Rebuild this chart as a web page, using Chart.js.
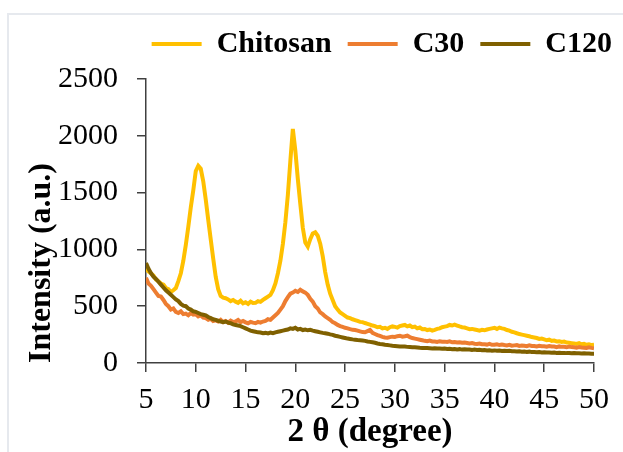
<!DOCTYPE html>
<html><head><meta charset="utf-8">
<script src="https://cdn.jsdelivr.net/npm/chart.js@4"></script>
<style>
html,body{margin:0;padding:0;background:#fff;}
#wrap{position:relative;width:623px;height:452px;overflow:hidden;}
#frame{position:absolute;left:7px;top:13px;right:-5px;bottom:-5px;border-left:2px solid #e6e9ee;border-top:2px solid #e6e9ee;}
canvas{position:absolute;left:0;top:0;}
</style></head><body>
<div id="wrap"><div id="frame"></div><canvas id="c" width="623" height="452"></canvas></div>
<script>
// 2θ grid: first angle and step (degrees)
const angleStart = 5;
const angleStep = 0.25;

const seriesNames = ['Chitosan', 'C30', 'C120'];

const chitosan = [
830,805,790,770,
735,720,700,690,
660,650,625,640,
660,720,790,900,
1040,1200,1370,1520,
1690,1735,1710,1600,
1440,1260,1090,920,
760,650,590,575,
570,560,545,555,
540,530,548,525,
535,520,540,528,
530,545,538,555,
570,585,600,640,
700,790,900,1050,
1240,1480,1780,2060,
1870,1620,1400,1190,
1060,1025,1090,1140,
1150,1120,1050,940,
800,690,610,555,
500,470,445,430,
415,400,395,385,
378,370,362,360,
352,345,338,330,
325,315,318,305,
310,300,315,322,
318,312,325,330,
335,322,330,315,
320,305,312,298,
300,290,295,285,
292,300,305,315,
320,325,335,330,
338,330,322,315,
312,305,298,300,
295,290,285,292,
288,295,300,305,
310,300,312,305,
300,290,285,275,
270,262,255,250,
245,240,235,228,
225,220,212,215,
208,200,205,195,
198,190,192,185,
188,180,178,175,
172,168,175,165,
168,160,165,158,
160];

const c30 = [
750,700,680,650,
620,590,585,555,
520,500,470,480,
450,440,455,430,
435,420,440,425,
430,410,420,400,
395,380,390,370,
375,365,380,360,
370,355,372,360,
365,378,360,370,
358,350,362,355,
350,362,355,365,
370,385,380,400,
420,440,470,500,
545,580,610,620,
635,625,645,630,
620,600,565,540,
500,480,445,430,
410,395,380,360,
350,335,325,318,
310,305,298,292,
290,285,278,272,
270,280,290,265,
255,245,238,230,
225,222,228,232,
230,236,240,232,
235,240,228,220,
215,210,205,200,
195,192,198,190,
190,186,192,188,
188,185,190,182,
185,180,183,178,
180,176,172,175,
170,168,172,166,
165,162,168,160,
160,165,158,162,
158,155,160,152,
155,158,150,153,
152,148,155,150,
150,146,152,148,
148,144,150,145,
145,140,146,142,
142,138,144,140,
138,135,140,136,
135,132,138,133,
130];

const c120 = [
880,830,790,760,
740,715,690,665,
640,620,600,580,
560,545,520,505,
500,480,470,455,
450,440,430,425,
420,405,395,385,
380,372,365,360,
365,355,350,340,
335,330,325,315,
305,295,285,280,
275,270,268,262,
265,260,268,262,
270,275,280,285,
290,295,305,300,
310,295,300,290,
295,288,292,285,
280,275,270,265,
262,258,252,248,
240,235,230,225,
220,215,212,208,
205,202,200,198,
195,190,186,182,
178,172,168,165,
160,158,155,152,
150,148,146,145,
145,142,140,138,
138,136,134,133,
132,131,130,128,
130,127,128,125,
128,124,126,122,
124,120,122,118,
120,118,119,115,
118,114,116,112,
114,110,112,109,
111,108,110,106,
108,105,107,103,
104,101,103,100,
101,98,100,96,
97,95,96,93,
94,92,93,90,
92,89,90,88,
89,87,88,86,
87,85,86,84,
85,83,84,82,
82];

const xTickLabels = ['5','10','15','20','25','30','35','40','45','50'];
const yTickLabels = ['0','500','1000','1500','2000','2500'];

const FONT = '"Liberation Serif", "Times New Roman", serif';
const AXIS = '#404040';
const colors = ['#FFC000', '#ED7D31', '#7F6000'];
const toPoints = arr => arr.map((v, i) => ({ x: angleStart + i * angleStep, y: v }));

const seriesData = [chitosan, c30, c120];
const datasets = seriesData.map((arr, i) => ({
  label: seriesNames[i],
  data: toPoints(arr),
  borderColor: colors[i],
  backgroundColor: colors[i],
  borderWidth: 4,
  pointRadius: 0,
  tension: 0,
  fill: false,
  order: 3 - i
}));

const hiddenAxis = size => ({
  display: true,
  type: 'linear',
  ticks: { display: false },
  grid: { display: false, drawTicks: false },
  border: { display: false },
  afterFit: s => { if (s.isHorizontal()) s.height = size; else s.width = size; }
});

new Chart(document.getElementById('c'), {
  type: 'line',
  data: { datasets },
  options: {
    responsive: false,
    animation: false,
    devicePixelRatio: 1,
    layout: { padding: { left: 8, right: -5, top: 13, bottom: 0 } },
    plugins: {
      legend: {
        display: true,
        position: 'top',
        align: 'end',
        labels: {
          usePointStyle: true,
          pointStyle: 'line',
          pointStyleWidth: 50,
          padding: 16,
          color: '#000',
          font: { family: FONT, size: 30, weight: 'bold' },
          sort: (a, b) => a.datasetIndex - b.datasetIndex
        }
      },
      tooltip: { enabled: false }
    },
    scales: {
      x: {
        type: 'linear',
        position: 'bottom',
        min: 5, max: 50,
        afterBuildTicks: s => { s.ticks = xTickLabels.map(t => ({ value: Number(t) })); },
        ticks: { stepSize: 5, color: '#000', font: { family: FONT, size: 30 }, padding: 10, maxRotation: 0, autoSkip: false,
                 callback: v => String(v) },
        grid: { drawOnChartArea: false, drawTicks: true, tickLength: 9, color: AXIS, lineWidth: 1.5 },
        border: { display: true, color: AXIS, width: 1.5 },
        title: { display: true, text: '2 θ (degree)', color: '#000', font: { family: FONT, size: 33, weight: 'bold' }, padding: { top: 0, bottom: 0 } },
        afterFit: s => { s.height = 89; }
      },
      xTop: Object.assign(hiddenAxis(10), { position: 'top' }),
      y: {
        position: 'left',
        min: 0, max: 2500,
        afterBuildTicks: s => { s.ticks = yTickLabels.map(t => ({ value: Number(t) })); },
        ticks: { stepSize: 500, color: '#000', font: { family: FONT, size: 30 }, padding: 19,
                 callback: v => String(v) },
        grid: { drawOnChartArea: false, drawTicks: true, tickLength: 9, color: AXIS, lineWidth: 1.5 },
        border: { display: true, color: AXIS, width: 1.5 },
        title: { display: true, text: 'Intensity (a.u.)', align: 'start', color: '#000', font: { family: FONT, size: 32, weight: 'bold' }, padding: { top: 15, bottom: 0 } },
        afterFit: s => { s.width = 138; }
      },
      yRight: Object.assign(hiddenAxis(34), { position: 'right' })
    }
  }
});
</script>
</body></html>
